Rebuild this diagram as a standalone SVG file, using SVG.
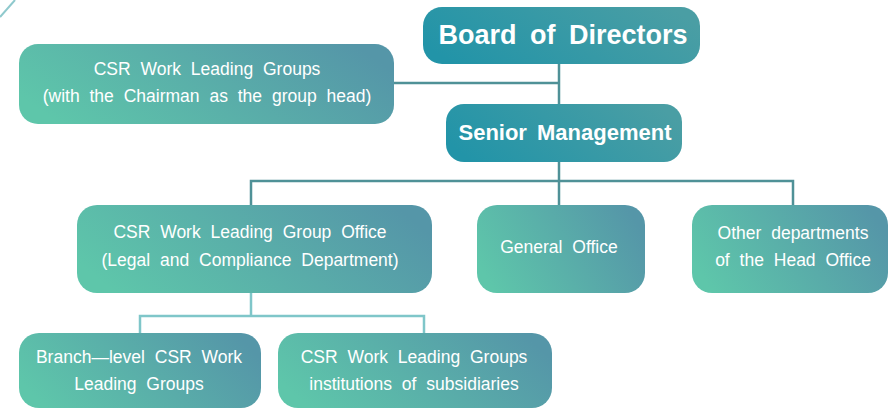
<svg xmlns="http://www.w3.org/2000/svg" width="889" height="409" viewBox="0 0 889 409">
  <defs>
    <linearGradient id="gLight" x1="0" y1="0.65" x2="1" y2="0.35">
      <stop offset="0" stop-color="#5ec6aa"/>
      <stop offset="1" stop-color="#5596a8"/>
    </linearGradient>
    <linearGradient id="gDark" x1="0" y1="0.65" x2="1" y2="0.35">
      <stop offset="0" stop-color="#2294a8"/>
      <stop offset="1" stop-color="#4a9ea4"/>
    </linearGradient>
    <style>
      .light { fill: url(#gLight); }
      .dark { fill: url(#gDark); }
      .t { font-family: "Liberation Sans", Arial, sans-serif; font-size: 17.5px; fill: #ffffff; text-anchor: middle; word-spacing: 5px; }
      .tb { font-family: "Liberation Sans", Arial, sans-serif; font-weight: bold; fill: #ffffff; text-anchor: middle; }
      .c1 { stroke: #4f9197; stroke-width: 2.5; fill: none; }
      .c2 { stroke: #7fc6c9; stroke-width: 2.5; fill: none; }
    </style>
  </defs>

  <line x1="0" y1="17" x2="15" y2="0" stroke="#8fc9cd" stroke-width="2"/>

  <g id="connectors">
    <path class="c1" d="M559 64 V104"/>
    <path class="c1" d="M394 83 H559"/>
    <path class="c1" d="M559 162 V205"/>
    <path class="c1" d="M251 205 V181 H793 V205"/>
    <path class="c2" d="M251 293 V316"/>
    <path class="c2" d="M140 333 V316 H424 V333"/>
  </g>

  <g id="board">
    <rect class="dark" x="423" y="7" width="277" height="57" rx="19"/>
    <text class="tb" x="563" y="44" font-size="27" word-spacing="6">Board of Directors</text>
  </g>

  <g id="csr-groups">
    <rect class="light" x="19" y="44" width="375" height="80" rx="19"/>
    <text class="t" x="207" y="75">CSR Work Leading Groups</text>
    <text class="t" x="207" y="102">(with the Chairman as the group head)</text>
  </g>

  <g id="senior">
    <rect class="dark" x="446" y="104" width="236" height="58" rx="18"/>
    <text class="tb" x="565" y="140" font-size="22" word-spacing="4">Senior Management</text>
  </g>

  <g id="csr-office">
    <rect class="light" x="77" y="205" width="355" height="88" rx="20"/>
    <text class="t" x="250" y="238">CSR Work Leading Group Office</text>
    <text class="t" x="250" y="266">(Legal and Compliance Department)</text>
  </g>

  <g id="general-office">
    <rect class="light" x="477" y="205" width="168" height="88" rx="20"/>
    <text class="t" x="559" y="253">General Office</text>
  </g>

  <g id="other-depts">
    <rect class="light" x="692" y="205" width="196" height="88" rx="20"/>
    <text class="t" x="793" y="239">Other departments</text>
    <text class="t" x="793" y="266">of the Head Office</text>
  </g>

  <g id="branch">
    <rect class="light" x="19" y="333" width="242" height="75" rx="20"/>
    <text class="t" x="139" y="363">Branch—level CSR Work</text>
    <text class="t" x="139" y="390">Leading Groups</text>
  </g>

  <g id="subsidiaries">
    <rect class="light" x="278" y="333" width="274" height="75" rx="20"/>
    <text class="t" x="414" y="363">CSR Work Leading Groups</text>
    <text class="t" x="414" y="390">institutions of subsidiaries</text>
  </g>
</svg>
